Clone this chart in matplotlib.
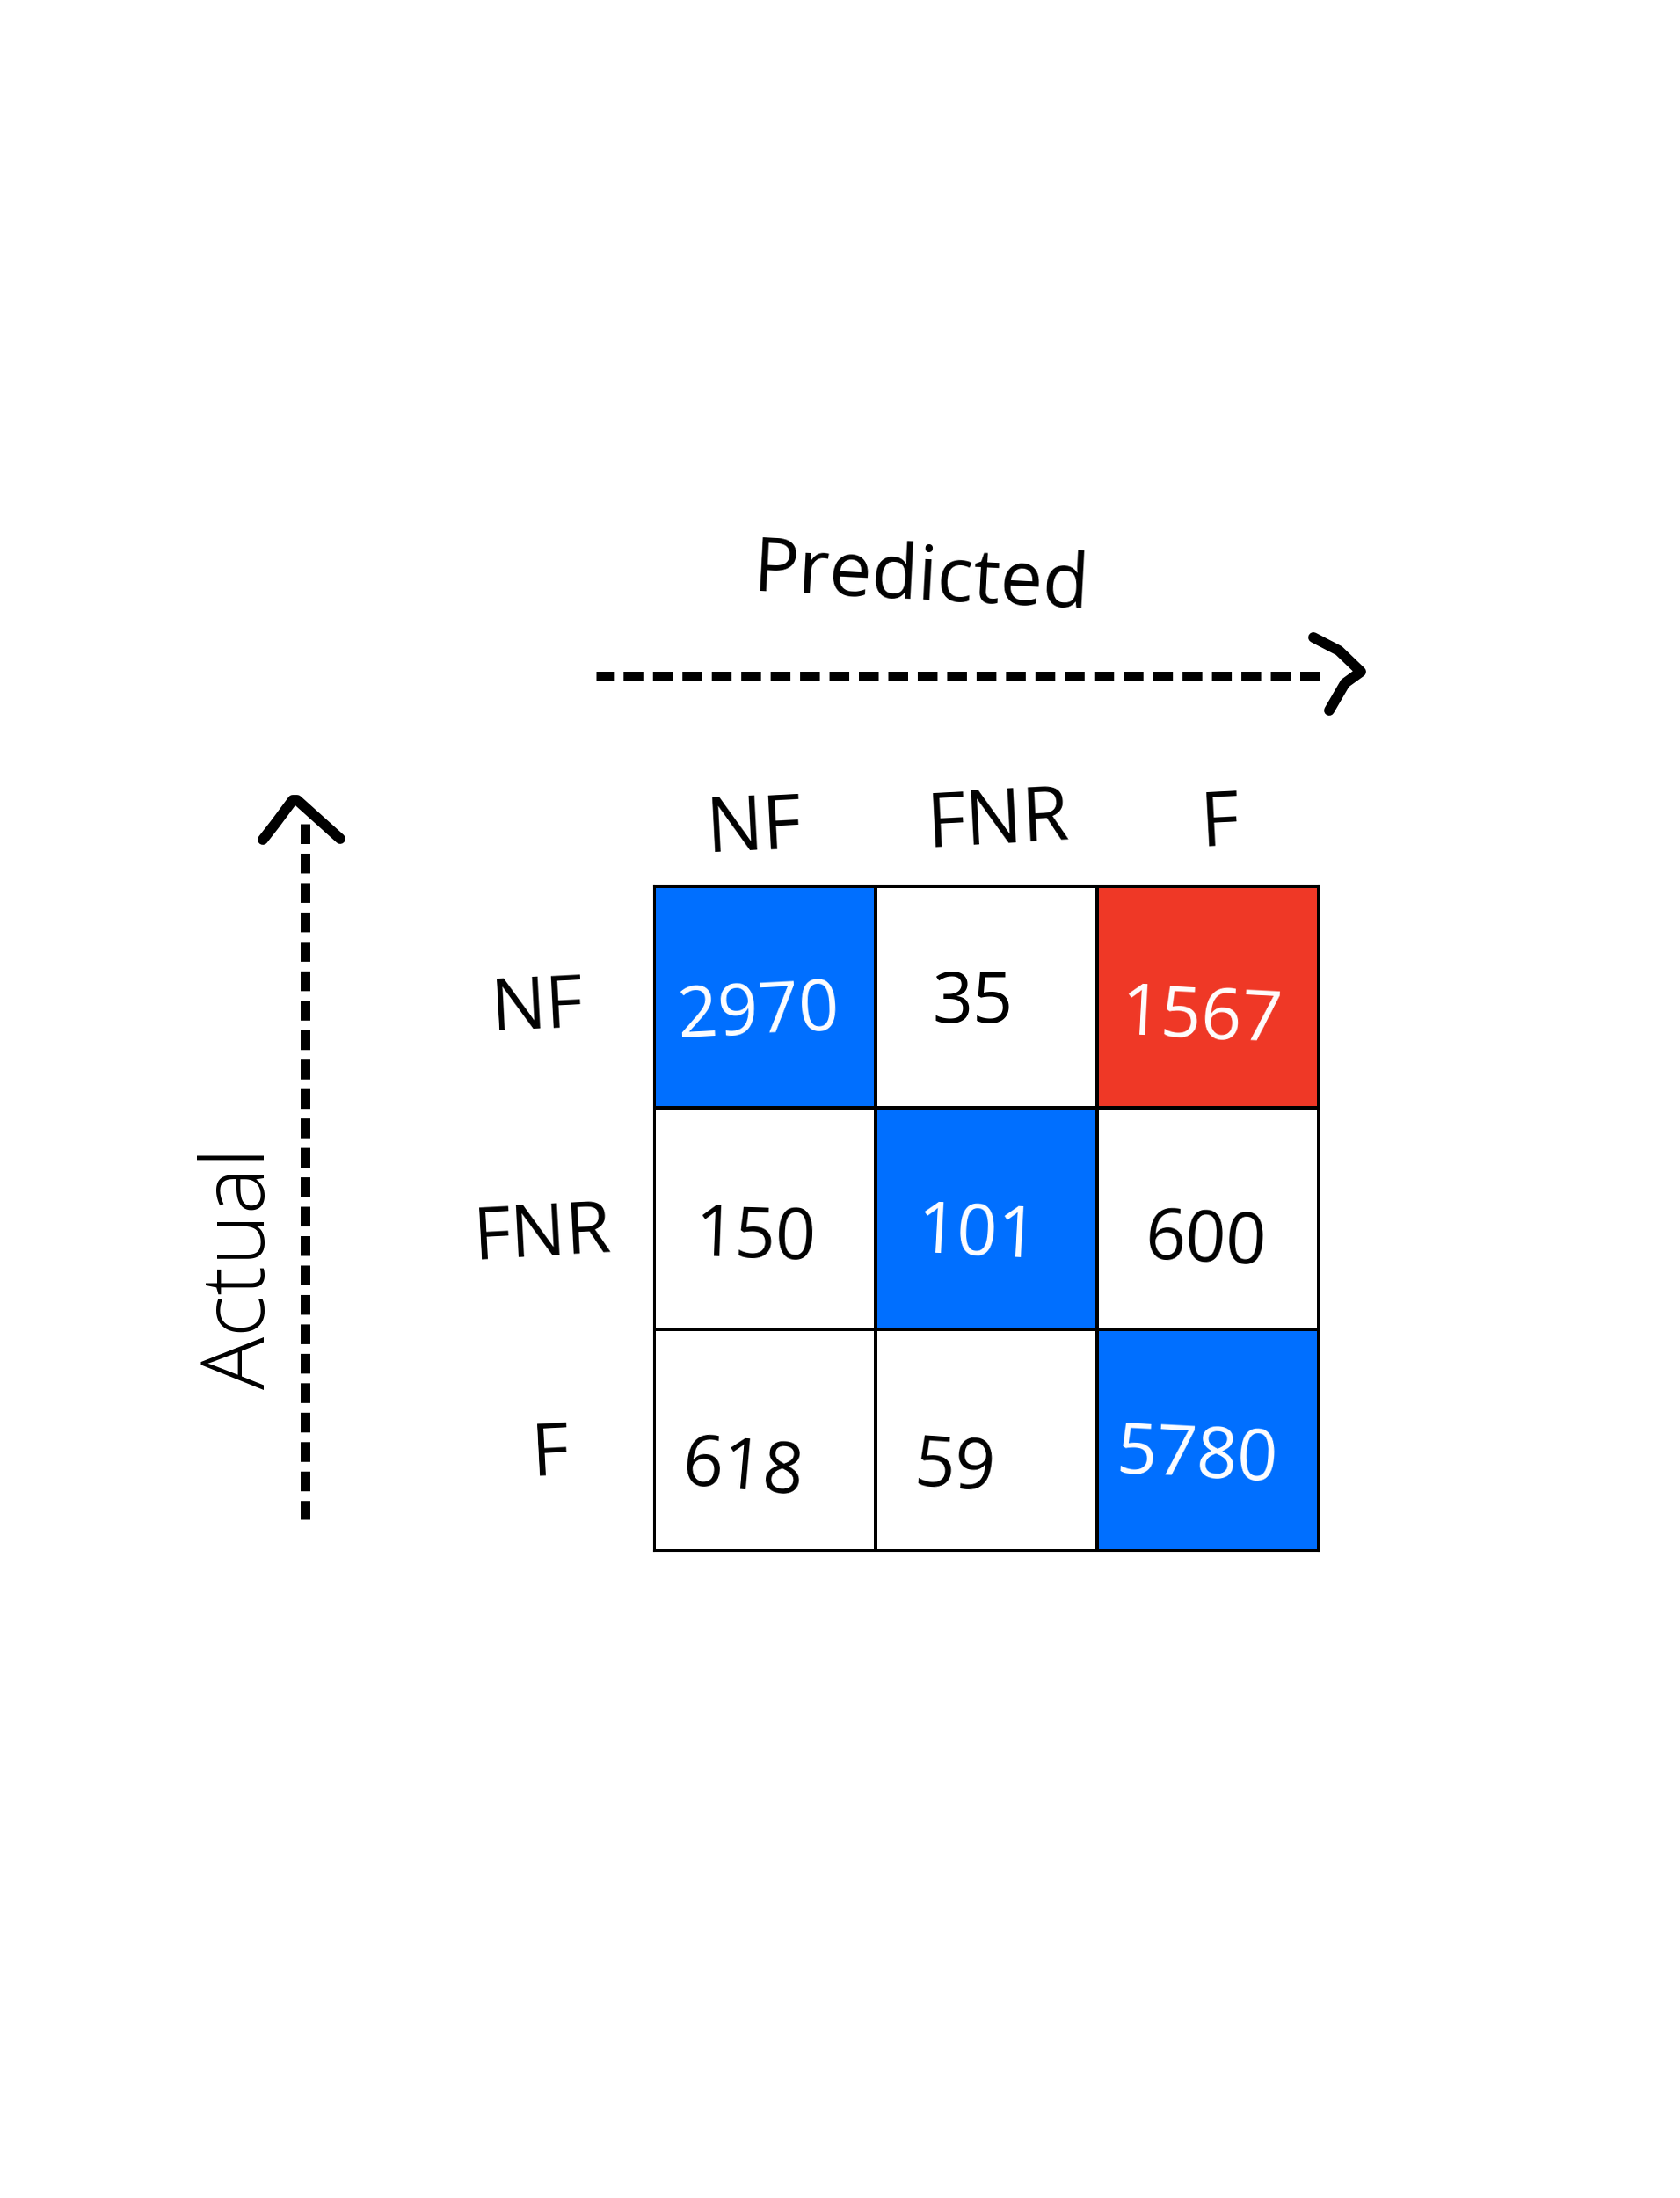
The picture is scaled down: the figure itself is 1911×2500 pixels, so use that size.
import numpy as np
import matplotlib
matplotlib.use("Agg")
import matplotlib.pyplot as plt
from matplotlib.colors import ListedColormap

W, H = 1911, 2500
GRID_LEFT, GRID_TOP, GRID_SIZE = 744, 1008, 756

categories = ["NF", "FNR", "F"]
counts = [[2970, 35, 1567],
          [150, 101, 600],
          [618, 59, 5780]]
# 0 = plain, 1 = correct class, 2 = highlighted error
cell_kind = [[1, 0, 2],
             [0, 1, 0],
             [0, 0, 1]]
text_nudge = [[(-0.03, 0.08), (-0.06, 0.03), (-0.03, 0.10)],
              [(-0.04, 0.09), (-0.04, 0.08), (-0.01, 0.11)],
              [(-0.10, 0.14), (-0.14, 0.13), (-0.05, 0.08)]]
text_angle = [[3, 0, -3], [-2, -3, -3], [-5, -4, -3]]

plt.rcParams["font.family"] = ["Open Sans", "DejaVu Sans"]
fig = plt.figure(figsize=(W / 100, H / 100), dpi=100, facecolor="white")


def px_ax(left, top, width, height):
    return fig.add_axes([left / W, 1 - (top + height) / H, width / W, height / H])


ax = px_ax(GRID_LEFT, GRID_TOP, GRID_SIZE, GRID_SIZE)
cmap = ListedColormap(["white", "#006FFF", "#EF3826"])
ax.pcolormesh(np.array(cell_kind), cmap=cmap, vmin=0, vmax=2, edgecolors="black", linewidth=1.5)
ax.invert_yaxis()
ax.set_xticks([])
ax.set_yticks([])
for s in ax.spines.values():
    s.set_linewidth(1.5)

for r, row in enumerate(counts):
    for c, v in enumerate(row):
        dx, dy = text_nudge[r][c]
        color = "white" if cell_kind[r][c] else "black"
        ax.text(c + 0.5 + dx, r + 0.5 + dy, str(v), color=color, fontsize=58, fontweight="normal",
                ha="center", va="center", rotation=text_angle[r][c])

# Overlay in pixel coordinates for the labels and arrows
ov = fig.add_axes([0, 0, 1, 1], facecolor="none")
ov.set_xlim(0, W)
ov.set_ylim(H, 0)
ov.axis("off")

col_label_x = [858, 1135, 1388]
col_label_y = [943, 936, 938]
for name, x, y in zip(categories, col_label_x, col_label_y):
    ov.text(x, y, name, fontsize=62, ha="center", va="center", rotation=3, fontweight="medium")

row_label_x = [612, 617, 626]
row_label_y = [1148, 1406, 1656]
for name, x, y in zip(categories, row_label_x, row_label_y):
    ov.text(x, y, name, fontsize=60, ha="center", va="center", rotation=3, fontweight="medium")

ov.text(1048, 660, "Predicted", fontsize=62, ha="center", va="center", rotation=-3)
ov.text(275, 1442, "Actual", fontsize=72, ha="center", va="center", rotation=90, fontweight="light")

# dashed axes arrows, drawn from the head end so the dash phase lines up
dash_style = dict(color="black", lw=7.9, dashes=(2.05, 1.0))
head_style = dict(color="black", lw=8.5, solid_capstyle="round", solid_joinstyle="round")
ov.plot([1501, 678], [768.5, 768.5], **dash_style)
ov.plot([1494, 1523, 1548, 1530, 1512], [725, 740, 764, 777, 808], **head_style)
ov.plot([347, 347], [937, 1728], **dash_style)
ov.plot([299, 313, 333, 338, 387], [955, 937, 910, 910, 954], **head_style)

fig.savefig("out.png", dpi=100, facecolor="white")
